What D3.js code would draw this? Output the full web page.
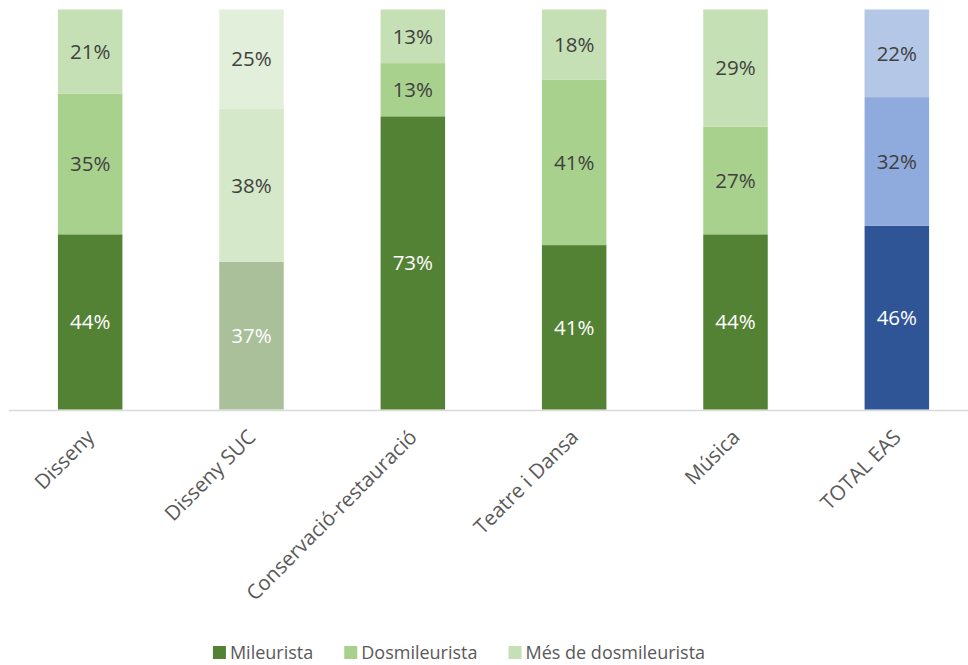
<!DOCTYPE html>
<html><head><meta charset="utf-8">
<script src="https://cdn.jsdelivr.net/npm/d3@7"></script>
<style>body{margin:0;background:#fff}svg{display:block}text{font-family:"Open Sans",sans-serif}</style>
</head><body><svg id="c" width="968" height="665"></svg>
<script>
const categories = ["Disseny","Disseny SUC","Conservació-restauració","Teatre i Dansa","Música","TOTAL EAS"];
const seriesNames = ["Mileurista","Dosmileurista","Més de dosmileurista"];
const mileurista = [43.8, 36.9, 73.3, 41.1, 43.8, 45.9];
const dosmileurista = [35.1, 38.3, 13.3, 41.3, 26.9, 32.2];
const mesDosmileurista = [21.1, 24.8, 13.4, 17.6, 29.3, 21.9];
const labels = [
  ["44%","37%","73%","41%","44%","46%"],
  ["35%","38%","13%","41%","27%","32%"],
  ["21%","25%","13%","18%","29%","22%"]
];
const legendColors = ["#548235","#A9D18E","#C5E0B4"];
const barColors = [
  ["#548235","#A9C09A","#548235","#548235","#548235","#2F5597"],
  ["#A9D18E","#D5E8CA","#A9D18E","#A9D18E","#A9D18E","#8FAADC"],
  ["#C5E0B4","#E2EFDA","#C5E0B4","#C5E0B4","#C5E0B4","#B4C7E7"]
];
const textColors = [
  ["#ffffff","#ffffff","#ffffff","#ffffff","#ffffff","#ffffff"],
  ["#404040","#404040","#404040","#404040","#404040","#404040"],
  ["#404040","#404040","#404040","#404040","#404040","#404040"]
];

const svg = d3.select("#c");
const x = d3.scaleBand().domain(categories).range([9.5, 977.5]).paddingInner(0.6).paddingOuter(0.3);
const y = d3.scaleLinear().domain([0, 100]).range([409.5, 9.5]);

const rows = categories.map((c,i)=>({cat:c, a:mileurista[i], b:dosmileurista[i], c2:mesDosmileurista[i], i}));
const stack = d3.stack().keys(["a","b","c2"])(rows);

// axis line
svg.append("line").attr("x1",9).attr("x2",968).attr("y1",410.5).attr("y2",410.5)
  .attr("stroke","#d9d9d9").attr("stroke-width",1.5);

const bw = 64.5;
stack.forEach((layer, si) => {
  const g = svg.append("g");
  g.selectAll("rect").data(layer).join("rect")
    .attr("x", d => x(d.data.cat) + x.bandwidth()/2 - bw/2)
    .attr("width", bw)
    .attr("y", d => y(d[1]))
    .attr("height", d => y(d[0]) - y(d[1]))
    .attr("fill", d => barColors[si][d.data.i]);
  g.selectAll("text").data(layer).join("text")
    .attr("x", d => x(d.data.cat) + x.bandwidth()/2)
    .attr("y", d => (y(d[0]) + y(d[1]))/2)
    .attr("dy","0.36em")
    .attr("text-anchor","middle")
    .attr("font-size", 20.5)
    .attr("fill", d => textColors[si][d.data.i])
    .text(d => labels[si][d.data.i]);
});

// category labels
svg.append("g").selectAll("text").data(categories).join("text")
  .attr("transform", d => `translate(${x(d)+x.bandwidth()/2-5},428) rotate(-45)`)
  .attr("text-anchor","end")
  .attr("dy","0.72em")
  .attr("font-size", 20.5)
  .attr("fill","#595959")
  .text(d => d);

// legend
const lg = svg.append("g");
let cx = 0;
seriesNames.forEach((n,i)=>{
  const it = lg.append("g").attr("transform",`translate(${cx},0)`);
  it.append("rect").attr("x",0).attr("y",-13).attr("width",13).attr("height",13).attr("fill",legendColors[i]);
  const t = it.append("text").attr("x",17).attr("y",0).attr("font-size",18).attr("fill","#595959").text(n);
  const w = t.node().getComputedTextLength();
  cx += 17 + w + 31;
});
const totalW = cx - 31;
lg.attr("transform",`translate(${459 - totalW/2},659)`);
</script></body></html>
